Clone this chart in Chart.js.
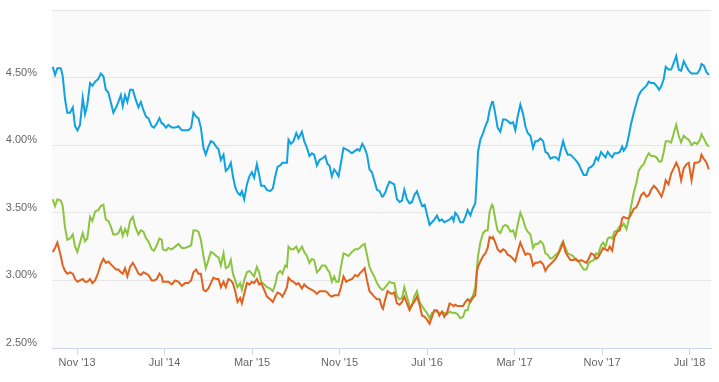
<!DOCTYPE html>
<html>
<head>
<meta charset="utf-8">
<script src="https://cdn.jsdelivr.net/npm/chart.js@4.4.0/dist/chart.umd.min.js"></script>
<style>
  html, body { margin: 0; padding: 0; background: #ffffff; }
  #wrap { width: 719px; height: 382px; }
</style>
</head>
<body>
<div id="wrap"><canvas id="yieldChart" width="719" height="382"></canvas></div>
<script>
// x = months after 1 Nov 2013 (roughly weekly readings)
const monthOffsets = [
  -2.22, -2.01, -1.80, -1.49, -1.31, -1.10, -0.89, -0.64, -0.39, -0.18, 0.03, 0.27, 0.52, 0.73, 0.94,
  1.19, 1.40, 1.65, 1.95, 2.17, 2.41, 2.63, 2.86, 3.08, 3.32, 3.57, 3.78, 4.00, 4.18, 4.39, 4.60, 4.85,
  5.10, 5.31, 5.61, 5.83, 6.07, 6.31, 6.52, 6.83, 7.04, 7.29, 7.53, 7.75,
  7.84, 8.14, 8.35, 8.66, 8.97, 9.27, 9.58, 9.88, 10.18, 10.43, 10.64, 10.89, 11.10, 11.32, 11.56, 11.77,
  12.01, 12.23, 12.47, 12.72, 12.93, 13.15, 13.39, 13.60, 13.84, 14.06, 14.25, 14.46, 14.67, 14.91, 15.07,
  15.28, 15.53, 15.76, 15.98, 16.19, 16.44, 16.65, 16.83, 17.11, 17.36, 17.66,
  17.90, 18.12, 18.33, 18.57, 18.78, 19.03, 19.19, 19.33, 19.55, 19.79, 20.04, 20.25, 20.56, 20.77, 21.02,
  21.25, 21.47, 21.68, 21.93, 22.17, 22.39, 22.69, 22.90, 23.08, 23.30, 23.51, 23.70, 23.91, 24.13, 24.36,
  24.61, 24.82, 25.13, 25.43, 25.65, 25.83, 26.08, 26.29, 26.51, 26.74, 26.96, 27.17, 27.42, 27.66, 27.88,
  27.97, 28.18, 28.39, 28.57, 28.79, 29.00, 29.25, 29.49, 29.71, 29.92, 30.16, 30.40, 30.62, 30.83, 31.08,
  31.32, 31.54, 31.78, 31.99, 32.23, 32.45, 32.66, 32.91, 33.12, 33.37, 33.58, 33.82, 34.06, 34.28, 34.43,
  34.58, 34.79, 35.04, 35.29, 35.50, 35.71, 35.96, 36.17, 36.41, 36.57, 36.66, 36.87, 37.12, 37.33, 37.54,
  37.72, 37.94,
  38.03, 38.24, 38.45, 38.70, 38.95, 39.16, 39.37, 39.62, 39.86, 40.07, 40.28, 40.53, 40.78, 40.99, 41.20,
  41.45, 41.69, 41.90, 42.11, 42.36, 42.61, 42.82, 43.03, 43.28, 43.52, 43.76, 44.03, 44.25, 44.44, 44.65,
  44.86, 45.11, 45.35, 45.59, 45.86, 46.08, 46.32, 46.57, 46.78, 47.00, 47.24, 47.46, 47.64, 47.91,
  48.10, 48.31, 48.52, 48.70, 48.92, 49.13, 49.38, 49.62, 49.84, 49.98, 50.23, 50.44, 50.66, 50.90, 51.14,
  51.35, 51.57, 51.81, 52.06, 52.27, 52.49, 52.73, 52.97, 53.22, 53.43, 53.64, 53.82, 54.07, 54.32, 54.56,
  54.78, 55.01, 55.23, 55.47, 55.72, 55.93, 56.18, 56.45, 56.70, 56.94, 57.09, 57.30, 57.55, 57.76
];

const blueSeries = [
  4.58, 4.52, 4.57, 4.57, 4.51, 4.34, 4.24, 4.24, 4.28, 4.14, 4.11, 4.15, 4.35, 4.23, 4.30,
  4.46, 4.44, 4.47, 4.49, 4.53, 4.51, 4.41, 4.39, 4.32, 4.24, 4.28, 4.32, 4.37, 4.29, 4.37, 4.32, 4.41,
  4.41, 4.35, 4.28, 4.32, 4.26, 4.21, 4.20, 4.14, 4.13, 4.16, 4.20, 4.16,
  4.16, 4.13, 4.15, 4.13, 4.13, 4.14, 4.11, 4.11, 4.11, 4.13, 4.24, 4.21, 4.20, 4.13, 3.98, 3.93,
  3.99, 4.03, 4.02, 3.99, 3.97, 3.89, 3.93, 3.81, 3.83, 3.87, 3.77, 3.69, 3.65, 3.63, 3.66,
  3.60, 3.71, 3.77, 3.80, 3.76, 3.86, 3.78, 3.70, 3.70, 3.67, 3.66,
  3.68, 3.77, 3.84, 3.85, 3.87, 3.87, 3.87, 4.04, 4.01, 4.03, 4.09, 4.05, 4.10, 4.03, 3.98,
  3.92, 3.94, 3.93, 3.85, 3.89, 3.90, 3.92, 3.86, 3.85, 3.77, 3.82, 3.80, 3.77, 3.87, 3.98,
  3.97, 3.96, 3.94, 3.96, 3.97, 3.96, 4.01, 3.98, 3.93, 3.82, 3.80, 3.74, 3.67, 3.66, 3.62,
  3.62, 3.65, 3.70, 3.73, 3.72, 3.71, 3.60, 3.58, 3.59, 3.67, 3.60, 3.57, 3.58, 3.63, 3.66,
  3.60, 3.55, 3.56, 3.49, 3.41, 3.43, 3.45, 3.48, 3.44, 3.45, 3.43, 3.44, 3.45, 3.47, 3.44,
  3.50, 3.48, 3.43, 3.43, 3.47, 3.52, 3.48, 3.53, 3.57, 3.79, 3.95, 4.04, 4.09, 4.14, 4.18,
  4.26, 4.32,
  4.32, 4.23, 4.13, 4.10, 4.19, 4.19, 4.18, 4.16, 4.17, 4.11, 4.21, 4.30, 4.23, 4.14, 4.09,
  4.07, 3.98, 4.03, 4.03, 4.05, 4.03, 3.95, 3.94, 3.90, 3.91, 3.91, 3.89, 3.97, 4.03, 3.97,
  3.93, 3.93, 3.91, 3.89, 3.86, 3.82, 3.78, 3.78, 3.83, 3.84, 3.86, 3.91, 3.89, 3.95,
  3.93, 3.91, 3.95, 3.93, 3.91, 3.94, 3.94, 3.95, 3.99, 3.96, 3.99, 4.07, 4.16, 4.24, 4.31,
  4.37, 4.40, 4.42, 4.44, 4.47, 4.46, 4.46, 4.44, 4.41, 4.44, 4.49, 4.58, 4.56, 4.56, 4.61,
  4.66, 4.56, 4.55, 4.62, 4.58, 4.55, 4.53, 4.53, 4.53, 4.56, 4.60, 4.59, 4.54, 4.52
];

const greenSeries = [
  3.60, 3.55, 3.60, 3.59, 3.55, 3.39, 3.30, 3.31, 3.34, 3.25, 3.21, 3.28, 3.35, 3.29, 3.31,
  3.47, 3.44, 3.51, 3.52, 3.55, 3.56, 3.45, 3.44, 3.40, 3.34, 3.34, 3.35, 3.39, 3.33, 3.38, 3.34, 3.44,
  3.47, 3.40, 3.34, 3.37, 3.36, 3.31, 3.29, 3.23, 3.22, 3.26, 3.31, 3.30,
  3.23, 3.22, 3.24, 3.23, 3.25, 3.27, 3.24, 3.24, 3.25, 3.26, 3.37, 3.37, 3.36, 3.30, 3.18, 3.09,
  3.15, 3.21, 3.20, 3.18, 3.17, 3.11, 3.20, 3.09, 3.10, 3.15, 3.05, 3.00, 2.95, 2.98, 2.93,
  3.00, 3.06, 3.07, 3.05, 3.03, 3.10, 3.06, 2.99, 2.97, 2.95, 2.94,
  2.92, 2.97, 3.05, 3.07, 3.05, 3.11, 3.10, 3.25, 3.23, 3.23, 3.25, 3.21, 3.25, 3.21, 3.18,
  3.13, 3.16, 3.15, 3.06, 3.08, 3.11, 3.11, 3.08, 3.06, 2.99, 3.03, 2.99, 2.99, 3.10, 3.20,
  3.19, 3.18, 3.21, 3.23, 3.23, 3.24, 3.26, 3.27, 3.19, 3.10, 3.06, 3.03, 2.98, 2.95, 2.93,
  2.93, 2.95, 2.97, 2.99, 2.98, 2.98, 2.88, 2.86, 2.87, 2.95, 2.88, 2.81, 2.81, 2.88, 2.92,
  2.84, 2.81, 2.78, 2.76, 2.72, 2.76, 2.77, 2.77, 2.76, 2.76, 2.76, 2.75, 2.77, 2.76, 2.76,
  2.76, 2.75, 2.72, 2.73, 2.78, 2.78, 2.86, 2.88, 2.95, 3.10, 3.18, 3.28, 3.35, 3.37, 3.37,
  3.51, 3.56,
  3.55, 3.45, 3.37, 3.35, 3.40, 3.41, 3.40, 3.36, 3.37, 3.32, 3.41, 3.50, 3.45, 3.39, 3.36,
  3.34, 3.24, 3.27, 3.27, 3.29, 3.27, 3.20, 3.19, 3.16, 3.17, 3.19, 3.21, 3.26, 3.29, 3.24,
  3.20, 3.19, 3.18, 3.15, 3.14, 3.11, 3.08, 3.08, 3.13, 3.14, 3.15, 3.20, 3.19, 3.26,
  3.28, 3.25, 3.31, 3.32, 3.31, 3.36, 3.37, 3.40, 3.40, 3.42, 3.38, 3.45, 3.55, 3.65, 3.72,
  3.81, 3.84, 3.86, 3.91, 3.94, 3.92, 3.92, 3.91, 3.88, 3.88, 3.95, 4.03, 4.03, 4.02, 4.09,
  4.15, 4.07, 4.02, 4.07, 4.05, 4.04, 4.00, 4.02, 4.01, 4.04, 4.08, 4.05, 4.01, 3.99
];

const orangeSeries = [
  3.21, 3.24, 3.28, 3.18, 3.11, 3.07, 3.05, 3.06, 3.05, 3.01, 2.99, 3.00, 3.01, 2.99, 2.99,
  3.01, 2.98, 3.00, 3.06, 3.12, 3.16, 3.13, 3.14, 3.12, 3.10, 3.08, 3.08, 3.06, 3.05, 3.09, 3.03, 3.10,
  3.13, 3.10, 3.05, 3.04, 3.06, 3.05, 3.04, 3.00, 3.00, 3.01, 3.05, 3.03,
  2.99, 2.99, 2.99, 2.97, 3.00, 2.99, 2.96, 2.98, 2.98, 3.00, 3.06, 3.08, 3.05, 3.05, 2.93, 2.92,
  2.94, 2.98, 3.02, 3.01, 3.01, 2.95, 2.99, 2.95, 3.01, 3.00, 2.98, 2.92, 2.84, 2.87, 2.83,
  2.90, 2.98, 2.97, 2.99, 2.98, 3.01, 2.97, 2.98, 2.93, 2.88, 2.86,
  2.84, 2.88, 2.91, 2.90, 2.88, 2.92, 2.95, 3.02, 3.00, 2.99, 2.97, 2.98, 2.94, 2.97, 2.95,
  2.94, 2.93, 2.92, 2.90, 2.92, 2.92, 2.92, 2.91, 2.89, 2.88, 2.89, 2.89, 2.89, 2.95, 3.03,
  2.99, 3.00, 3.01, 3.04, 3.03, 3.05, 3.07, 3.09, 3.00, 2.92, 2.90, 2.88, 2.86, 2.86, 2.80,
  2.79, 2.86, 2.92, 2.91, 2.90, 2.91, 2.83, 2.82, 2.84, 2.88, 2.83, 2.78, 2.82, 2.84, 2.88,
  2.82, 2.74, 2.73, 2.71, 2.68, 2.73, 2.78, 2.78, 2.74, 2.77, 2.73, 2.76, 2.83, 2.82, 2.81,
  2.82, 2.81, 2.81, 2.81, 2.84, 2.86, 2.84, 2.87, 2.89, 3.07, 3.10, 3.14, 3.18, 3.20, 3.24,
  3.32, 3.31,
  3.32, 3.28, 3.23, 3.21, 3.23, 3.22, 3.19, 3.18, 3.16, 3.14, 3.21, 3.28, 3.23, 3.19, 3.20,
  3.19, 3.11, 3.13, 3.13, 3.14, 3.12, 3.07, 3.10, 3.12, 3.14, 3.16, 3.20, 3.24, 3.28, 3.21,
  3.18, 3.15, 3.15, 3.16, 3.14, 3.15, 3.14, 3.13, 3.16, 3.20, 3.19, 3.16, 3.17, 3.21,
  3.24, 3.23, 3.22, 3.25, 3.22, 3.32, 3.36, 3.37, 3.46, 3.47, 3.46, 3.46, 3.49, 3.53, 3.54,
  3.58, 3.63, 3.65, 3.62, 3.63, 3.67, 3.70, 3.68, 3.65, 3.62, 3.67, 3.74, 3.71, 3.79, 3.83,
  3.87, 3.83, 3.74, 3.83, 3.86, 3.87, 3.74, 3.87, 3.87, 3.88, 3.93, 3.90, 3.87, 3.82
];

const tickMonths = [0, 8, 16, 24, 32, 40, 48, 56];
const tickLabels = ["Nov '13", "Jul '14", "Mar '15", "Nov '15", "Jul '16", "Mar '17", "Nov '17", "Jul '18"];
const xRange = [-2.29, 57.96];
const yTicks = [2.5, 3.0, 3.5, 4.0, 4.5, 5.0];

function toPoints(values) {
  return values.map((v, i) => ({ x: monthOffsets[i], y: v }));
}

const plotBackground = {
  id: 'plotBackground',
  beforeDraw(chart) {
    const { ctx, chartArea } = chart;
    ctx.save();
    ctx.fillStyle = '#fafafa';
    ctx.fillRect(chartArea.left, chartArea.top, chartArea.right - chartArea.left, chartArea.bottom - chartArea.top);
    ctx.restore();
  }
};

function lineSet(values, color) {
  return {
    data: toPoints(values),
    borderColor: color,
    borderWidth: 2,
    pointRadius: 0,
    tension: 0,
    fill: false
  };
}

// drop the extra room Chart.js keeps for half a label at the scale ends
function noEndPadding(scale) {
  scale.paddingTop = 0;
  scale.paddingBottom = 0;
  scale.paddingLeft = 0;
  scale.paddingRight = 0;
}

new Chart(document.getElementById('yieldChart'), {
  type: 'line',
  data: {
    datasets: [
      lineSet(orangeSeries, '#e0621e'),
      lineSet(greenSeries, '#8cc43f'),
      lineSet(blueSeries, '#0ea2e0')
    ]
  },
  options: {
    responsive: false,
    animation: false,
    events: [],
    layout: { padding: { top: 10, right: 8, left: 0, bottom: 0 } },
    plugins: { legend: { display: false }, tooltip: { enabled: false } },
    scales: {
      x: {
        type: 'linear',
        min: xRange[0],
        max: xRange[1],
        afterBuildTicks(scale) {
          scale.ticks = tickMonths.map(v => ({ value: v }));
        },
        afterFit(scale) {
          scale.height = 34;
          noEndPadding(scale);
        },
        ticks: {
          autoSkip: false,
          maxRotation: 0,
          padding: 1,
          color: '#666666',
          font: { family: 'Liberation Sans, Arial, sans-serif', size: 11 },
          callback(value) {
            const i = tickMonths.indexOf(value);
            return i >= 0 ? tickLabels[i] : '';
          }
        },
        grid: {
          drawOnChartArea: false,
          drawTicks: true,
          tickLength: 7,
          color: '#ccd6eb'
        },
        border: { display: true, color: '#ccd6eb', width: 1 }
      },
      y: {
        min: 2.5,
        max: 5.0,
        afterBuildTicks(scale) {
          scale.ticks = yTicks.map(v => ({ value: v }));
        },
        afterFit(scale) {
          scale.width = 52;
          noEndPadding(scale);
        },
        ticks: {
          padding: 15,
          labelOffset: -5,
          color: '#666666',
          font: { family: 'Liberation Sans, Arial, sans-serif', size: 11 },
          callback(value) {
            return value >= 5 ? '' : value.toFixed(2) + '%';
          }
        },
        grid: {
          drawTicks: false,
          color(c) { return c.tick && c.tick.value === 2.5 ? 'rgba(0,0,0,0)' : '#e6e6e6'; }
        },
        border: { display: false }
      }
    }
  },
  plugins: [plotBackground]
});
</script>
</body>
</html>
